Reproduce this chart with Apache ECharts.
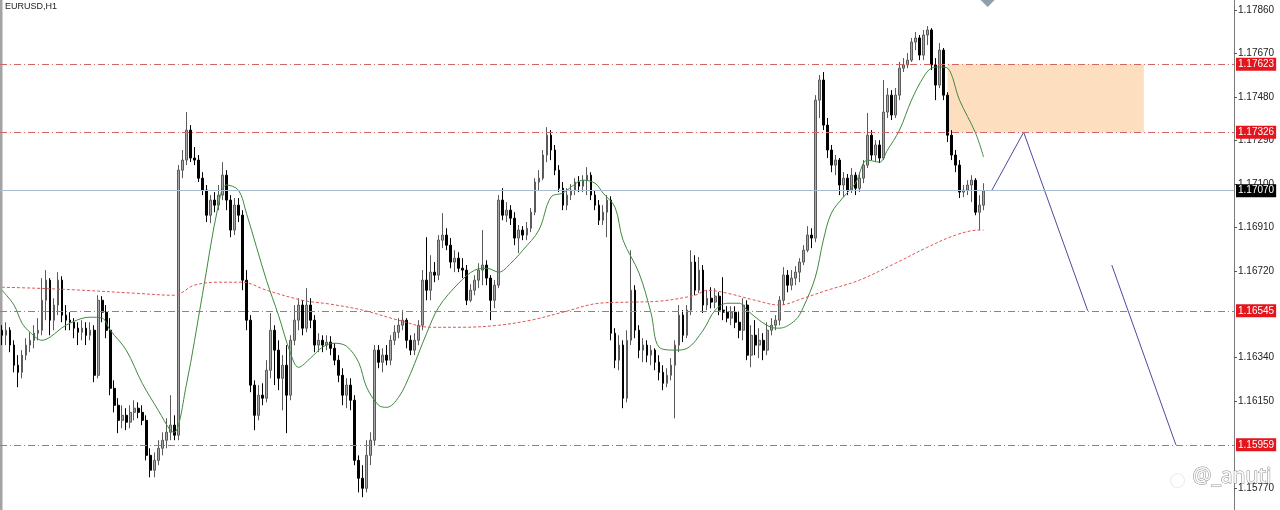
<!DOCTYPE html>
<html><head><meta charset="utf-8">
<script src="https://cdn.jsdelivr.net/npm/echarts@6/dist/echarts.min.js"></script>
<style>html,body{margin:0;padding:0;background:#fff}#c{width:1280px;height:510px}</style>
</head><body><div id="c"></div>
<script>
const symbolName = 'EURUSD,H1';
const watermark = '@_anuti';
const totalSlots = 308;
const categories = Array.from({length: totalSlots}, (_, i) => String(i));

// candles: [open, close, low, high] in points above 1.15000 (1 point = 0.00001)
const candlesPts = [
[1460,1438,1395,1482],[1438,1460,1395,1495],[1460,1395,1364,1473],[1395,1307,1276,1416],[1307,1276,1211,1351],
[1276,1351,1250,1373],[1351,1395,1329,1425],[1395,1416,1364,1451],[1416,1447,1381,1482],[1447,1460,1416,1513],
[1460,1591,1438,1688],[1591,1679,1504,1723],[1679,1504,1438,1688],[1504,1570,1460,1600],[1570,1679,1526,1714],
[1679,1526,1495,1696],[1526,1504,1460,1570],[1504,1495,1460,1539],[1495,1469,1425,1513],[1469,1451,1395,1495],
[1451,1469,1416,1504],[1469,1438,1395,1495],[1438,1460,1416,1495],[1460,1263,1233,1482],[1263,1591,1250,1613],
[1591,1539,1495,1609],[1539,1460,1425,1570],[1460,1206,1176,1513],[1206,1132,1101,1241],[1132,1066,1010,1163],
[1066,1088,1031,1132],[1088,1058,1023,1119],[1058,1101,1031,1132],[1101,1119,1066,1154],[1119,1101,1075,1145],
[1101,1066,1045,1132],[1066,913,891,1088],[913,848,817,944],[848,891,817,926],[891,944,870,979],
[944,979,913,1014],[979,1014,944,1075],[1014,1045,979,1176],[1045,1001,979,1088],[1001,2160,979,2182],
[2160,2204,2125,2248],[2204,2335,2182,2414],[2335,2213,2195,2357],[2213,2204,2182,2261],[2204,2125,2108,2226],
[2125,2073,2051,2151],[2073,1963,1933,2095],[1963,2029,1928,2051],[2029,2007,1976,2064],[2007,2051,1985,2095],
[2051,2138,2029,2195],[2138,2029,1985,2160],[2029,1898,1867,2051],[1898,2007,1876,2038],[2007,1963,1933,2038],
[1963,1679,1635,1985],[1679,1504,1460,1723],[1504,1220,1189,1526],[1220,1088,1023,1241],[1088,1176,1066,1220],
[1176,1163,1132,1228],[1163,1285,1145,1329],[1285,1460,1250,1535],[1460,1373,1220,1482],[1373,1250,1198,1416],
[1250,1307,1110,1351],[1307,1176,1010,1395],[1176,1416,1154,1438],[1416,1504,1395,1570],[1504,1570,1460,1600],
[1570,1469,1438,1591],[1469,1570,1451,1644],[1570,1504,1469,1600],[1504,1395,1364,1526],[1395,1416,1364,1447],
[1416,1395,1364,1438],[1395,1408,1373,1438],[1408,1381,1351,1434],[1381,1329,1307,1403],[1329,1263,1233,1351],
[1263,1176,1132,1294],[1176,1220,1119,1250],[1220,1154,1110,1250],[1154,891,870,1176],[891,813,751,913],
[813,769,730,870],[769,913,751,979],[913,979,870,1014],[979,1373,957,1395],[1373,1320,1294,1395],
[1320,1351,1276,1381],[1351,1329,1307,1395],[1329,1416,1307,1438],[1416,1451,1395,1482],[1451,1482,1425,1513],
[1482,1504,1460,1548],[1504,1416,1381,1513],[1416,1373,1351,1438],[1373,1416,1351,1447],[1416,1482,1395,1504],
[1482,1679,1460,1723],[1679,1635,1591,1867],[1635,1714,1591,1788],[1714,1701,1670,1758],[1701,1854,1679,1876],
[1854,1876,1819,1972],[1876,1832,1810,1906],[1832,1758,1731,1863],[1758,1775,1714,1810],[1775,1731,1714,1801],
[1731,1723,1688,1775],[1723,1591,1570,1745],[1591,1635,1583,1661],[1635,1679,1613,1701],[1679,1723,1644,1753],
[1723,1745,1657,1898],[1745,1688,1657,1766],[1688,1591,1504,1701],[1591,1657,1556,1679],[1657,2029,1644,2051],
[2029,1963,1941,2081],[1963,1985,1933,2020],[1985,1950,1920,2007],[1950,1863,1832,1976],[1863,1898,1797,1920],
[1898,1876,1854,1915],[1876,1906,1854,1933],[1906,1976,1889,1994],[1976,2108,1963,2125],[2108,2125,2073,2160],
[2125,2226,2116,2248],[2226,2313,2195,2348],[2313,2248,2204,2335],[2248,2160,2138,2270],[2160,2081,2064,2182],
[2081,2007,1985,2108],[2007,2051,1985,2081],[2051,2073,2029,2099],[2073,2108,2051,2125],[2108,2090,2064,2134],
[2090,2116,2064,2138],[2116,2138,2051,2173],[2138,2051,2029,2151],[2051,2007,1985,2073],[2007,1941,1920,2029],
[1941,1976,1920,2007],[1976,2029,1867,2051],[2029,1447,1416,2046],[1447,1329,1294,1469],[1329,1395,1285,1438],
[1395,1163,1119,1416],[1163,1416,1145,1460],[1416,1635,1395,1810],[1635,1460,1425,1657],[1460,1373,1338,1482],
[1373,1395,1320,1425],[1395,1351,1320,1416],[1351,1373,1307,1395],[1373,1320,1285,1381],[1320,1276,1241,1351],
[1276,1228,1198,1307],[1228,1263,1211,1294],[1263,1307,1241,1338],[1307,1395,1075,1416],[1395,1526,1364,1570],
[1526,1438,1408,1548],[1438,1548,1425,1570],[1548,1758,1526,1810],[1758,1635,1613,1788],[1635,1723,1622,1780],
[1723,1570,1535,1745],[1570,1600,1548,1635],[1600,1583,1556,1648],[1583,1609,1556,1644],[1609,1548,1526,1626],
[1548,1539,1504,1692],[1539,1513,1495,1565],[1513,1539,1482,1565],[1539,1495,1469,1565],[1495,1460,1425,1539],
[1460,1570,1416,1600],[1570,1351,1329,1591],[1351,1438,1298,1482],[1438,1395,1351,1504],[1395,1416,1338,1469],
[1416,1373,1329,1447],[1373,1460,1351,1495],[1460,1482,1438,1513],[1482,1504,1460,1526],[1504,1591,1482,1609],
[1591,1701,1570,1736],[1701,1657,1626,1723],[1657,1688,1635,1723],[1688,1714,1657,1740],[1714,1758,1670,1775],
[1758,1810,1745,1832],[1810,1876,1801,1915],[1876,1863,1819,1906],[1863,2466,1845,2488],[2466,2554,2388,2576],
[2554,2357,2335,2589],[2357,2248,2213,2388],[2248,2182,2151,2270],[2182,2204,2138,2226],[2204,2095,2051,2213],
[2095,2125,2042,2151],[2125,2073,2051,2143],[2073,2138,2060,2169],[2138,2081,2051,2151],[2081,2125,2064,2151],
[2125,2182,2103,2204],[2182,2313,2169,2410],[2313,2226,2204,2335],[2226,2270,2195,2291],[2270,2213,2191,2291],
[2213,2414,2204,2554],[2414,2488,2388,2519],[2488,2401,2379,2510],[2401,2488,2388,2519],[2488,2606,2466,2633],
[2606,2620,2589,2650],[2620,2641,2606,2672],[2641,2720,2633,2738],[2720,2738,2685,2764],[2738,2663,2641,2751],
[2663,2751,2641,2773],[2751,2773,2707,2790],[2773,2620,2598,2781],[2620,2532,2466,2650],[2532,2685,2519,2716],
[2685,2488,2466,2694],[2488,2313,2283,2501],[2313,2226,2204,2335],[2226,2182,2151,2248],[2182,2064,2038,2204],
[2064,2073,2042,2095],[2073,2095,2051,2116],[2095,2116,2020,2138],[2116,1976,1963,2125],[1976,2007,1898,2051],
[2007,2070,1985,2103]
];

// fast (green) moving average: [candle index, points]
const greenMA = [
[0,1635],[3,1570],[5,1491],[7,1451],[10,1416],[12,1430],[16,1482],[22,1517],[25,1513],[27,1460],
[31,1373],[35,1228],[39,1110],[42,1023],[43,1014],[46,1220],[50,1613],[54,2007],[56,2095],[59,2073],
[61,1972],[66,1679],[69,1526],[72,1360],[74,1298],[77,1338],[80,1386],[83,1403],[86,1390],[89,1320],
[91,1211],[94,1132],[96,1123],[99,1167],[102,1272],[104,1360],[106,1447],[109,1561],[114,1666],[118,1723],
[121,1731],[124,1714],[127,1753],[130,1810],[134,1898],[137,2042],[140,2060],[142,2086],[145,2116],[148,2103],
[150,2060],[153,1998],[155,1854],[159,1710],[162,1535],[164,1386],[168,1373],[171,1381],[175,1460],[178,1548],
[181,1578],[184,1578],[186,1548],[189,1504],[192,1473],[194,1469],[198,1504],[200,1561],[203,1692],[205,1854],
[207,1972],[210,2042],[213,2103],[216,2204],[219,2195],[221,2248],[224,2335],[227,2466],[230,2567],[232,2606],
[234,2611],[236,2606],[239,2466],[243,2322],[245,2217]
];

// slow (red dotted) moving average: [candle index, points]
const redMA = [
[0,1648],[8,1644],[20,1635],[33,1622],[43,1613],[48,1657],[54,1670],[60,1670],[66,1635],[75,1591],
[82,1574],[90,1548],[99,1504],[107,1473],[115,1473],[124,1482],[132,1504],[140,1539],[149,1578],[157,1583],
[164,1587],[173,1613],[176,1635],[181,1622],[188,1591],[194,1570],[200,1600],[206,1635],[214,1679],[223,1753],
[231,1823],[238,1876],[244,1898],[245,1898]
];

const levels = [1.17623, 1.17326, 1.16545, 1.15959];
const currentPrice = 1.17070;
const zoneRange = {from: 236, to: 285, low: 1.17326, high: 1.17623};
const projection1 = [[247, 1.17070], [255, 1.17326], [271, 1.16545]];
const projection2 = [[277, 1.16745], [293, 1.15959]];
const marker = [[246, 1.17904]];
const yTicks = [1.17860, 1.17670, 1.17480, 1.17290, 1.17100, 1.16910, 1.16720, 1.16340, 1.16150, 1.15770];
const yMin = 1.15674, yMax = 1.17904;

const toPrice = p => +(1.15 + p / 100000).toFixed(5);
const candles = candlesPts.map(c => c.map(toPrice));
const greenData = greenMA.map(([i, p]) => [i, toPrice(p)]);
const redData = redMA.map(([i, p]) => [i, toPrice(p)]);

const FONT = 'Liberation Sans, Arial, sans-serif';
const redLabel = {
  show: true, position: 'end', distance: 2,
  formatter: p => Number(p.value).toFixed(5),
  color: '#fff', backgroundColor: '#e3161d', padding: [2, 2, 1, 2],
  fontSize: 10, fontFamily: FONT
};
const levelLine = {color: '#d56464', width: 1, type: [7, 3, 1, 3]};

const chart = echarts.init(document.getElementById('c'));
chart.setOption({
  animation: false,
  backgroundColor: '#ffffff',
  grid: {left: 0, right: 46, top: 0, bottom: 0},
  xAxis: {type: 'category', data: categories, boundaryGap: true, show: false},
  yAxis: {
    type: 'value', position: 'right', min: yMin, max: yMax, scale: true,
    axisLine: {show: true, lineStyle: {color: '#7a7a7a', width: 1}},
    axisTick: {show: true, length: 3, customValues: yTicks, lineStyle: {color: '#555'}},
    axisLabel: {show: true, customValues: yTicks, formatter: v => Number(v).toFixed(5),
      color: '#222', fontSize: 10, fontFamily: FONT, margin: 4},
    splitLine: {show: false}
  },
  series: [
    {
      type: 'line', name: 'zone', data: [], z: 1, silent: true,
      markArea: {silent: true, itemStyle: {color: '#fddfbf'},
        data: [[{xAxis: zoneRange.from, yAxis: zoneRange.high}, {xAxis: zoneRange.to, yAxis: zoneRange.low}]]}
    },
    {
      type: 'line', name: 'levels', data: [], z: 2, silent: true,
      markLine: {
        silent: true, symbol: ['none', 'none'], animation: false, precision: 5,
        data: [
          ...levels.map(v => ({yAxis: v, lineStyle: levelLine, label: redLabel})),
          {yAxis: currentPrice, lineStyle: {color: '#a9bbcc', width: 1, type: 'solid'},
            label: Object.assign({}, redLabel, {backgroundColor: '#000'})}
        ]
      }
    },
    {
      type: 'candlestick', name: symbolName, data: candles, z: 3, barWidth: '55%',
      itemStyle: {color: '#a8a8a8', color0: '#000000', borderColor: '#5a5a5a', borderColor0: '#000000', borderWidth: 1}
    },
    {
      type: 'line', name: 'MA fast', data: greenData, z: 4, symbol: 'none', smooth: 0.35,
      lineStyle: {color: '#3f8a3f', width: 1}
    },
    {
      type: 'line', name: 'MA slow', data: redData, z: 4, symbol: 'none', smooth: 0.35,
      lineStyle: {color: '#e05555', width: 1, type: [3, 2]}
    },
    {
      type: 'line', name: 'proj1', data: projection1, z: 4, symbol: 'none',
      lineStyle: {color: '#4b4b9f', width: 1}
    },
    {
      type: 'line', name: 'proj2', data: projection2, z: 4, symbol: 'none',
      lineStyle: {color: '#4b4b9f', width: 1}
    },
    {
      type: 'scatter', name: 'marker', data: marker, symbol: 'diamond', symbolSize: 14, clip: false, z: 6,
      itemStyle: {color: '#76869a'}
    }
  ],
  graphic: [
    {type: 'rect', left: 0, top: 0, shape: {width: 2.5, height: 510}, style: {fill: '#a3a3a3'}, silent: true},
    {type: 'text', left: 5, top: 2, style: {text: symbolName, fill: '#222', fontSize: 9, fontFamily: FONT}, silent: true},
    {type: 'circle', left: 1168, top: 471, shape: {r: 7}, style: {fill: 'none', stroke: '#ededed', lineWidth: 1.2}, silent: true},
    {type: 'text', left: 1192, top: 466, style: {text: watermark, fill: '#fbfbfb', stroke: '#8c8c8c', lineWidth: 1,
      fontSize: 21, fontFamily: 'Noto Sans, sans-serif'}, silent: true, z: 10}
  ]
});
</script>
</body></html>
